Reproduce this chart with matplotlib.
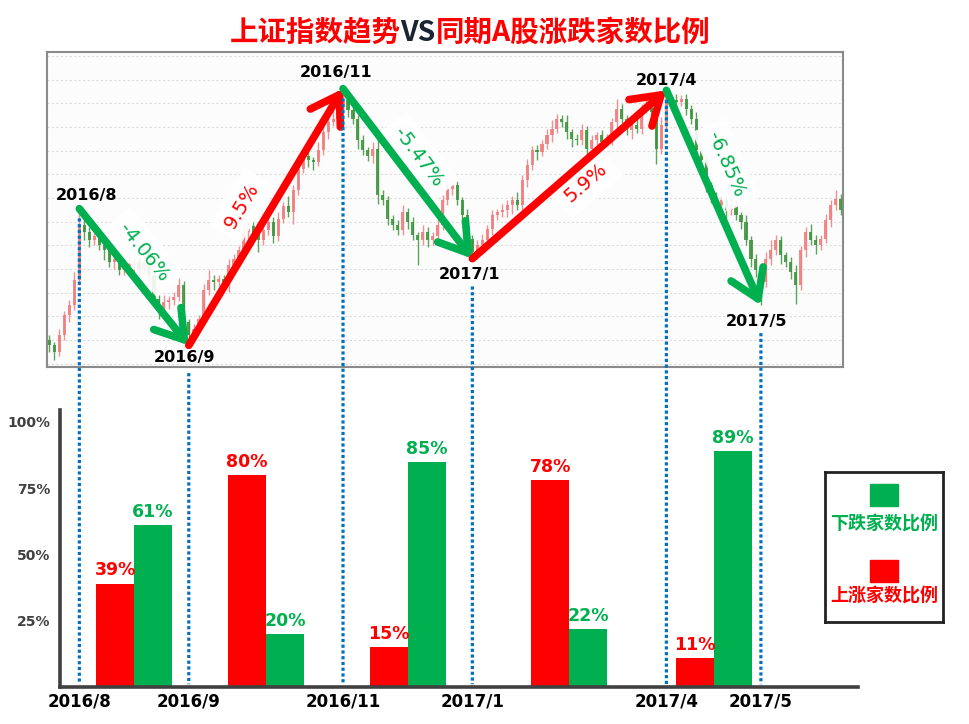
"""Shanghai Composite trend vs. share of A-shares rising/falling, as one infographic."""

import math

import matplotlib

matplotlib.use("Agg")
import matplotlib.pyplot as plt
import numpy as np
from matplotlib.patches import ConnectionPatch, Rectangle

plt.rcParams["font.family"] = ["DejaVu Sans", "Noto Sans CJK SC"]

CJK = ["Noto Sans CJK SC", "DejaVu Sans"]
RED = "#ff0000"
GREEN = "#00b050"
DOT_BLUE = "#0070c0"
W, H = 969, 724

# daily index levels (open = previous close)
first_open = 2998
close = [
    2992, 2984, 3004, 3028, 3040, 3070, 3136, 3128, 3118, 3123,
    3112, 3106, 3092, 3096, 3082, 3087, 3089, 3092, 3082, 3092,
    3076, 3048, 3034, 3044, 3046, 3050, 3064, 3020, 3004, 3012,
    3024, 3058, 3070, 3068, 3072, 3064, 3088, 3096, 3106, 3128,
    3135, 3124, 3118, 3130, 3140, 3123, 3144, 3159, 3152, 3178,
    3204, 3219, 3214, 3212, 3226, 3248, 3260, 3264, 3279, 3286,
    3274, 3264, 3238, 3226, 3219, 3228, 3172, 3166, 3144, 3136,
    3130, 3152, 3140, 3124, 3118, 3128, 3118, 3123, 3136, 3166,
    3180, 3184, 3166, 3148, 3120, 3104, 3112, 3118, 3132, 3148,
    3152, 3154, 3160, 3166, 3160, 3190, 3208, 3226, 3224, 3234,
    3244, 3252, 3264, 3260, 3248, 3240, 3238, 3250, 3228, 3238,
    3244, 3236, 3238, 3260, 3276, 3264, 3250, 3256, 3252, 3276,
    3280, 3272, 3228, 3256, 3288, 3286, 3284, 3288, 3276, 3264,
    3226, 3214, 3184, 3168, 3160, 3166, 3154, 3160, 3148, 3140,
    3118, 3096, 3082, 3068, 3096, 3106, 3118, 3100, 3092, 3080,
    3064, 3106, 3128, 3118, 3112, 3120, 3142, 3160, 3168, 3154,
]
upper_wick = [
    6, 4, 8, 5, 6, 10, 20, 8, 6, 5,
    7, 4, 6, 8, 5, 6, 9, 4, 6, 8,
    5, 6, 4, 8, 5, 6, 10, 5, 4, 6,
    5, 8, 12, 6, 5, 4, 8, 6, 5, 10,
    6, 8, 4, 5, 10, 6, 8, 5, 12, 6,
    8, 5, 6, 4, 10, 6, 8, 12, 5, 14,
    6, 8, 5, 6, 4, 8, 12, 6, 5, 4,
    6, 8, 5, 6, 4, 8, 6, 5, 10, 6,
    8, 5, 6, 4, 8, 5, 6, 8, 5, 6,
    4, 8, 6, 5, 10, 6, 8, 5, 6, 4,
    8, 10, 6, 5, 8, 4, 6, 8, 5, 6,
    4, 6, 8, 5, 12, 6, 5, 4, 8, 6,
    8, 5, 6, 10, 10, 6, 8, 5, 6, 4,
    8, 5, 6, 4, 8, 6, 5, 10, 6, 4,
    8, 5, 6, 4, 8, 12, 6, 5, 4, 6,
    8, 5, 6, 10, 6, 5, 8, 6, 10, 6,
]
lower_wick = [
    8, 10, 5, 6, 8, 5, 6, 10, 8, 6,
    5, 12, 6, 8, 5, 6, 8, 10, 5, 6,
    8, 6, 10, 5, 8, 6, 5, 8, 12, 6,
    5, 8, 6, 10, 5, 6, 8, 5, 10, 6,
    8, 5, 14, 6, 5, 8, 6, 5, 6, 14,
    6, 5, 8, 10, 5, 6, 8, 5, 6, 5,
    8, 6, 10, 5, 6, 8, 10, 6, 8, 5,
    6, 5, 8, 6, 30, 5, 8, 6, 5, 6,
    5, 8, 6, 10, 6, 8, 8, 5, 6, 8,
    5, 6, 8, 10, 6, 5, 8, 6, 10, 5,
    6, 8, 5, 6, 8, 10, 5, 6, 8, 5,
    6, 8, 5, 6, 8, 5, 6, 10, 5, 6,
    5, 6, 18, 6, 5, 8, 6, 5, 8, 6,
    10, 6, 8, 5, 6, 8, 10, 5, 6, 8,
    6, 10, 8, 28, 6, 8, 5, 10, 6, 8,
    22, 6, 8, 5, 10, 6, 5, 8, 6, 5,
]

# turning points of the index and the move between each pair
turn_idx = [6, 28, 59, 85, 124, 143]
turn_kind = ["high", "low", "high", "low", "high", "low"]
turn_labels = ["2016/8", "2016/9", "2016/11", "2017/1", "2017/4", "2017/5"]
move_pct = ["-4.06%", "9.5%", "-5.47%", "5.9%", "-6.85%"]

# share of A-shares that rose / fell in each of those periods (%)
rise_share = [39, 80, 15, 78, 11]
fall_share = [61, 20, 85, 22, 89]
y_ticks = [25, 50, 75, 100]
y_tick_labels = ["25%", "50%", "75%", "100%"]


def fig_box(left, top, right, bottom):
    return [left / W, 1 - bottom / H, (right - left) / W, (bottom - top) / H]


def draw_candles(ax):
    close_arr = np.array(close, dtype=float)
    open_arr = np.concatenate([[first_open], close_arr[:-1]])
    high = np.maximum(open_arr, close_arr) + np.array(upper_wick)
    low = np.minimum(open_arr, close_arr) - np.array(lower_wick)
    x = np.arange(len(close_arr))
    up = close_arr >= open_arr
    body_col = np.where(up, "#f07f7f", "#3f963f")
    ax.vlines(x, low, high, colors=body_col, lw=1.0, alpha=0.85, zorder=2)
    body = np.maximum(np.abs(close_arr - open_arr), 1.5)
    ax.bar(x, body, 0.62, bottom=np.minimum(open_arr, close_arr),
           color=body_col, alpha=0.9, lw=0, zorder=3)
    return high, low


fig = plt.figure(figsize=(W / 100, H / 100), dpi=100)

# ---- top panel: index candles ----
top = fig.add_axes(fig_box(47, 52, 843, 367))
n = len(close)
top.set_xlim(-0.5, n - 0.5)
top.set_ylim(2966, 3344)
top.set_facecolor("#fcfcfc")
top.set_yticks(np.arange(2970, 3340, 28.4))
top.set_xticks([])
top.tick_params(left=False, labelleft=False)
top.grid(axis="y", color="#dcdcdc", linestyle=(0, (2, 2)), lw=0.8, zorder=0)
for sp in top.spines.values():
    sp.set_color("#8a8a8a")
    sp.set_linewidth(1.5)

high, low = draw_candles(top)
turn_level = [high[i] if k == "high" else low[i] for i, k in zip(turn_idx, turn_kind)]

label_off = [(5, 4), (-3, -3), (-5, 6), (-2, -6), (0, 2), (-3, -6)]
for i, lvl, kind, lab, off in zip(turn_idx, turn_level, turn_kind, turn_labels, label_off):
    top.annotate(lab, xy=(i, lvl), xytext=off, textcoords="offset points",
                 ha="center", va="bottom" if kind == "high" else "top",
                 fontsize=11.5, fontweight="bold", color="black", zorder=6)

pct_off = [(7, 18), (-17, 8), (8, 12), (12, -6), (9, 24)]
for k, pct in enumerate(move_pct):
    tail = (turn_idx[k], turn_level[k])
    head = (turn_idx[k + 1], turn_level[k + 1])
    col = GREEN if pct.startswith("-") else RED
    top.annotate("", xy=head, xytext=tail,
                 arrowprops=dict(arrowstyle="->,head_length=0.7,head_width=0.45",
                                 lw=5.5, color=col, shrinkA=0, shrinkB=0,
                                 mutation_scale=28),
                 zorder=5)
    p0 = top.transData.transform(tail)
    p1 = top.transData.transform(head)
    ang = math.degrees(math.atan2(p1[1] - p0[1], p1[0] - p0[0]))
    mid = ((tail[0] + head[0]) / 2, (tail[1] + head[1]) / 2)
    top.annotate(pct, xy=mid, xytext=pct_off[k], textcoords="offset points",
                 ha="center", va="center", rotation=ang, rotation_mode="anchor",
                 fontsize=14, color=col, zorder=4,
                 bbox=dict(boxstyle="square,pad=0.45", fc="white", ec="none", alpha=0.9))

# ---- bottom panel: rising / falling share bars ----
bot = fig.add_axes(fig_box(60, 410, 858, 687))
px_per_idx = (843 - 47) / n
bot.set_xlim((60 - 47) / px_per_idx - 0.5, (858 - 47) / px_per_idx - 0.5)
bot.set_ylim(0, 104.5)
bar_w = 38 / px_per_idx
centers = [(a + b) / 2 for a, b in zip(turn_idx[:-1], turn_idx[1:])]
for c, r, f in zip(centers, rise_share, fall_share):
    bot.bar(c - bar_w / 2, r, bar_w, color=RED, zorder=2)
    bot.bar(c + bar_w / 2, f, bar_w, color=GREEN, zorder=2)
    bot.annotate(f"{r}%", xy=(c - bar_w / 2, r), xytext=(0, 3), textcoords="offset points",
                 ha="center", va="bottom", fontsize=12.5, fontweight="bold", color=RED)
    bot.annotate(f"{f}%", xy=(c + bar_w / 2, f), xytext=(0, 3), textcoords="offset points",
                 ha="center", va="bottom", fontsize=12.5, fontweight="bold", color=GREEN)

bot.set_yticks(y_ticks)
bot.set_yticklabels(y_tick_labels, fontsize=10, fontweight="bold", color="#404040")
bot.set_xticks(turn_idx)
bot.set_xticklabels(turn_labels, fontsize=12, fontweight="bold", color="black")
bot.tick_params(length=0)
bot.tick_params(axis="y", pad=7)
bot.tick_params(axis="x", pad=4)
for side in ("top", "right"):
    bot.spines[side].set_visible(False)
for side in ("left", "bottom"):
    bot.spines[side].set_color("#404040")
    bot.spines[side].set_linewidth(2.6)
bot.set_facecolor("none")

# dotted guides from each turning point down to the bar axis
for i, lvl, kind in zip(turn_idx, turn_level, turn_kind):
    con = ConnectionPatch(xyA=(i, lvl), coordsA=top.transData,
                          xyB=(i, 0), coordsB=bot.transData,
                          color=DOT_BLUE, lw=2.3, linestyle=(0, (1, 0.8)),
                          shrinkA=7 if kind == "high" else 20, shrinkB=2,
                          capstyle="butt", zorder=1)
    fig.add_artist(con)

# ---- legend box ----
leg = fig.add_axes(fig_box(825, 472, 943, 622))
leg.set_xlim(0, 1)
leg.set_ylim(0, 1)
leg.set_xticks([])
leg.set_yticks([])
for sp in leg.spines.values():
    sp.set_color("#222222")
    sp.set_linewidth(2)
leg.add_patch(Rectangle((0.38, 0.773), 0.24, 0.147, color=GREEN))
leg.text(0.5, 0.655, "下跌家数比例", ha="center", va="center", fontsize=13,
         fontweight="bold", color=GREEN, family=CJK)
leg.add_patch(Rectangle((0.38, 0.267), 0.24, 0.147, color=RED))
leg.text(0.5, 0.17, "上涨家数比例", ha="center", va="center", fontsize=13,
         fontweight="bold", color=RED, family=CJK)

# ---- title in three colours ----
parts = [("上证指数趋势", RED), ("VS", "#1b2433"), ("同期A股涨跌家数比例", RED)]
renderer = fig.canvas.get_renderer()
texts = [fig.text(0, 1 - 33 / H, s, color=c, ha="left", va="center", fontsize=20.5,
                  fontweight="bold", family=CJK) for s, c in parts]
widths = [t.get_window_extent(renderer).width for t in texts]
x_px = 470 - sum(widths) / 2
for t, w in zip(texts, widths):
    t.set_x(x_px / W)
    x_px += w

fig.savefig("out.png", dpi=100, facecolor="white")
